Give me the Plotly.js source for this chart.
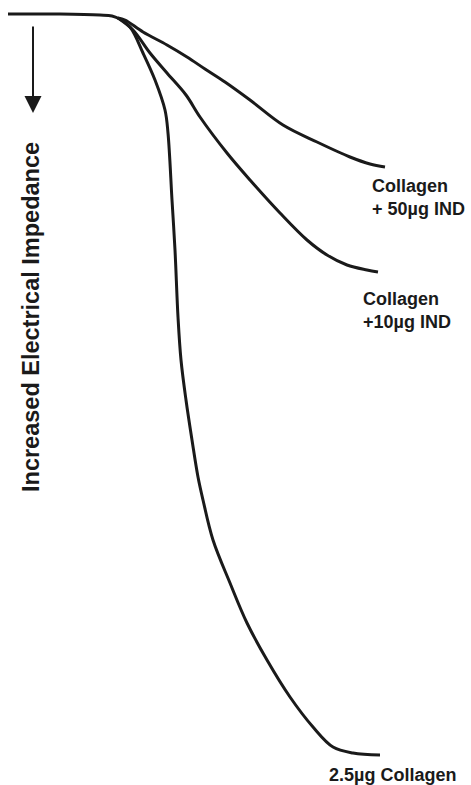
<!DOCTYPE html>
<html>
<head>
<meta charset="utf-8">
<script src="https://cdn.plot.ly/plotly-3.0.1.min.js"></script>
<style>html,body{margin:0;padding:0;background:#fff;}#chart{width:471px;height:785px;}</style>
</head>
<body>
<div id="chart"></div>
<script>
// Time (horizontal) and impedance trace position (downwards = increased impedance)
const baselineX = [8, 60, 100, 112, 120];
const baselineY = [14, 14, 15, 16, 19];

const ind50X = [118, 125, 143, 167, 187, 205, 225, 250, 283, 317, 350, 370, 385];
const ind50Y = [18, 20, 32, 45, 57, 69, 82, 100, 125, 142, 157, 164, 167];

const ind10X = [118, 133, 150, 167, 186, 200, 227, 250, 280, 307, 327, 347, 367, 378];
const ind10Y = [18, 30, 53, 73, 95, 117, 153, 180, 213, 240, 255, 265, 270, 272];

const colX = [118, 130, 143, 155, 165, 168, 172, 175, 178, 181, 186, 192, 198, 203, 213, 230, 247, 267, 290, 313, 333, 353, 380];
const colY = [18, 27, 53, 80, 110, 133, 200, 250, 317, 360, 400, 440, 477, 500, 540, 583, 623, 660, 697, 727, 747, 753, 755];

const labels = ["Collagen<br>+ 50µg IND", "Collagen<br>+10µg IND", "2.5µg Collagen"];
const axisLabel = "Increased Electrical Impedance";

const lineStyle = {color: '#1a1a1a', width: 3, shape: 'spline', smoothing: 1};
const traces = [
  {x: baselineX, y: baselineY, mode: 'lines', line: lineStyle, hoverinfo: 'skip'},
  {x: ind50X, y: ind50Y, mode: 'lines', line: lineStyle, hoverinfo: 'skip'},
  {x: ind10X, y: ind10Y, mode: 'lines', line: lineStyle, hoverinfo: 'skip'},
  {x: colX, y: colY, mode: 'lines', line: lineStyle, hoverinfo: 'skip'}
];

const fnt = {family: 'Liberation Sans, Arial, sans-serif', size: 18, color: '#1a1a1a'};
const layout = {
  width: 471, height: 785,
  margin: {l: 0, r: 0, t: 0, b: 0},
  paper_bgcolor: '#fff', plot_bgcolor: '#fff',
  showlegend: false,
  xaxis: {range: [0, 471], visible: false, fixedrange: true},
  yaxis: {range: [785, 0], visible: false, fixedrange: true},
  annotations: [
    {x: 370, y: 174, xref: 'x', yref: 'y', text: '<b>' + labels[0] + '</b>', showarrow: false,
     xanchor: 'left', yanchor: 'top', align: 'left', font: fnt},
    {x: 361, y: 287, xref: 'x', yref: 'y', text: '<b>' + labels[1] + '</b>', showarrow: false,
     xanchor: 'left', yanchor: 'top', align: 'left', font: fnt},
    {x: 327, y: 763, xref: 'x', yref: 'y', text: '<b>' + labels[2] + '</b>', showarrow: false,
     xanchor: 'left', yanchor: 'top', align: 'left', font: fnt},
    {x: 31, y: 317, xref: 'x', yref: 'y', text: '<b>' + axisLabel + '</b>', showarrow: false,
     textangle: -90, xanchor: 'center', yanchor: 'middle',
     font: {family: 'Liberation Sans, Arial, sans-serif', size: 23.5, color: '#1a1a1a'}},
    {x: 33, y: 113, xref: 'x', yref: 'y', ax: 33, ay: 25, axref: 'x', ayref: 'y',
     text: '', showarrow: true, arrowhead: 2, arrowsize: 1.7, arrowwidth: 2, arrowcolor: '#1a1a1a', standoff: 0}
  ]
};

Plotly.newPlot('chart', traces, layout, {staticPlot: true, displayModeBar: false});
</script>
</body>
</html>
